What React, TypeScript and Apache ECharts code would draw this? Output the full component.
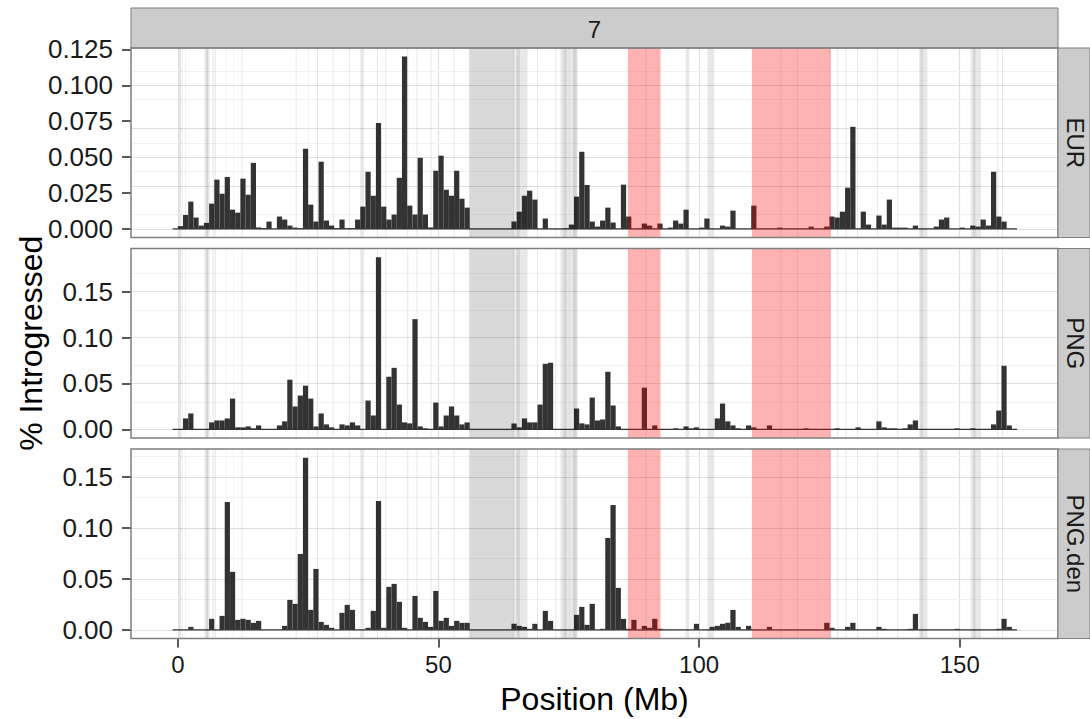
import React, { useEffect, useRef } from "react";
import * as echarts from "echarts";

// ---------- data ----------
const chromosome = "7";
const panels = ["EUR", "PNG", "PNG.den"];
const firstBinStart = -1; // Mb, bins are 1 Mb wide
const binWidth = 1;

// % introgressed per 1-Mb bin, bins starting at -1, 0, 1, ..., 160 Mb
const eur = [
  0, 0.0019, 0.0097, 0.019, 0.0079, 0.0023, 0.0042, 0.0176, 0.0343, 0.0245,
  0.0361, 0.0134, 0.0113, 0.035, 0.0238, 0.046, 0.001, 0.0005, 0.0051, 0,
  0.0086, 0.0065, 0.0023, 0.0009, 0.0005, 0.0558, 0.0169, 0.0051, 0.0468, 0.0058,
  0.0023, 0.0005, 0.0065, 0.0005, 0.0005, 0.0065, 0.0155, 0.0398, 0.0231, 0.0738,
  0.0155, 0.0065, 0.01, 0.0356, 0.12, 0.0162, 0.01, 0.0495, 0.01, 0.001,
  0.0405, 0.051, 0.0273, 0.0231, 0.0405, 0.021, 0.0148, 0, 0, 0,
  0, 0, 0, 0, 0, 0.0051, 0.012, 0.0231, 0.0266, 0.0204,
  0, 0.0072, 0, 0, 0, 0.0005, 0.003, 0.0225, 0.0537, 0.0306,
  0.0051, 0.0016, 0.0058, 0.0148, 0.0044, 0, 0.0308, 0.0086, 0, 0.0002,
  0.0037, 0.0023, 0, 0.0037, 0, 0.0009, 0.0058, 0.0037, 0.0134, 0,
  0, 0.0009, 0.0072, 0, 0, 0.0023, 0.0016, 0.0127, 0, 0,
  0, 0.0162, 0, 0, 0, 0, 0.0009, 0, 0, 0,
  0, 0, 0.0016, 0, 0, 0.0016, 0.0086, 0.0079, 0.012, 0.0287,
  0.0711, 0, 0.012, 0.003, 0, 0.0093, 0.003, 0.0204, 0.0009, 0.0009,
  0.0009, 0, 0.0023, 0, 0, 0, 0.0016, 0.0065, 0.0079, 0,
  0, 0.0009, 0, 0.0023, 0.0016, 0.0065, 0.0023, 0.0398, 0.0086, 0.0051,
  0, 0,
];
const png = [
  0, 0, 0.0119, 0.0173, 0, 0, 0, 0.0076, 0.0097, 0.0097,
  0.0119, 0.0335, 0.0022, 0.0022, 0.0032, 0.0011, 0.0043, 0, 0, 0,
  0.0043, 0.0087, 0.0541, 0.0249, 0.0368, 0.0476, 0.0335, 0.0032, 0.0173, 0.0054,
  0.0022, 0, 0.0054, 0.0043, 0.0076, 0.0043, 0, 0.0314, 0.0151, 0.1875,
  0, 0.0573, 0.067, 0.027, 0.0076, 0.0065, 0.12, 0.0032, 0.0011, 0,
  0.0292, 0.0032, 0.0151, 0.0249, 0.0151, 0.0054, 0.0076, 0, 0, 0,
  0, 0, 0, 0, 0, 0.0065, 0.0022, 0.0119, 0.0076, 0.0076,
  0.027, 0.0714, 0.0725, 0, 0, 0, 0, 0.0227, 0.0065, 0.0054,
  0.0346, 0.0097, 0.0108, 0.0627, 0.026, 0.0032, 0, 0, 0, 0,
  0.0454, 0, 0.0043, 0, 0, 0, 0.0011, 0, 0.0032, 0.0011,
  0.0022, 0, 0, 0, 0.0119, 0.0281, 0.0087, 0.0043, 0.0011, 0,
  0.0043, 0.0022, 0, 0, 0.0043, 0, 0, 0, 0, 0,
  0, 0.0011, 0, 0, 0, 0, 0, 0.0011, 0, 0,
  0, 0.0022, 0, 0, 0, 0.0087, 0.0022, 0.0011, 0.0011, 0,
  0.0011, 0.0054, 0.0097, 0, 0, 0, 0, 0, 0, 0,
  0.0011, 0, 0, 0.0011, 0, 0, 0, 0.0054, 0.0205, 0.0692,
  0.0043, 0,
];
const pngDen = [
  0, 0, 0, 0.0029, 0, 0, 0, 0.0108, 0, 0.0137,
  0.1255, 0.0569, 0.0098, 0.0108, 0.0098, 0.0069, 0.0088, 0, 0, 0,
  0, 0.0039, 0.0294, 0.0255, 0.0745, 0.169, 0.0196, 0.0598, 0.0078, 0.0049,
  0.002, 0, 0.0167, 0.0245, 0.0196, 0, 0, 0.002, 0.0186, 0.1265,
  0.002, 0.0422, 0.0451, 0.0275, 0.002, 0, 0.0333, 0.0118, 0.0078, 0.0029,
  0.0382, 0.0088, 0.0118, 0.0039, 0.0088, 0.0069, 0.0069, 0, 0, 0,
  0, 0, 0, 0, 0, 0.0059, 0.0039, 0.0029, 0.001, 0.0059,
  0, 0.0186, 0.0088, 0, 0, 0, 0, 0.0147, 0.0225, 0.0049,
  0.0255, 0, 0.001, 0.0902, 0.1225, 0.0412, 0.0108, 0.001, 0.0098, 0,
  0.0039, 0.002, 0.0108, 0.001, 0, 0, 0, 0, 0, 0,
  0.0059, 0, 0, 0.0029, 0.0039, 0.0059, 0.0069, 0.0196, 0.0029, 0,
  0.0039, 0, 0, 0, 0.0029, 0, 0, 0, 0, 0,
  0, 0, 0, 0, 0, 0.0069, 0.002, 0, 0, 0.0029,
  0.0069, 0, 0, 0, 0, 0.0029, 0.001, 0, 0, 0,
  0, 0.001, 0.0157, 0, 0, 0, 0, 0, 0, 0,
  0.001, 0, 0, 0, 0, 0, 0, 0, 0.001, 0.0108,
  0.0029, 0,
];
const panelValues = [eur, png, pngDen];

const xTicks = [0, 50, 100, 150];
const xMinorTicks = [25, 75, 125];
const yTicks = [
  [0, 0.025, 0.05, 0.075, 0.1, 0.125],
  [0, 0.05, 0.1, 0.15],
  [0, 0.05, 0.1, 0.15],
];
const yMinorTicks = [
  [0.0125, 0.0375, 0.0625, 0.0875, 0.1125],
  [0.025, 0.075, 0.125, 0.175],
  [0.025, 0.075, 0.125, 0.175],
];
const yDecimals = [3, 2, 2];
const yRanges = [
  [-0.006, 0.126],
  [-0.0094, 0.1969],
  [-0.0085, 0.1775],
];
const xRange = [-8.98, 168.85];

// highlighted regions (Mb)
const redRegions = [
  [86.35, 92.6],
  [110.13, 125.28],
];
const greyBand = [55.9, 64.5];
// thin grey marks (Mb)
const gapMarks = [
  [0.2, 0.7], [0.9, 1.0], [1.4, 1.5], [5.1, 6.1], [5.5, 5.8], [6.7, 6.9], [7.1, 7.3],
  [9.2, 9.3], [10.6, 10.7], [12.2, 12.4], [22.6, 22.8], [26.7, 26.9], [29.7, 29.9],
  [32.8, 33.0], [35.0, 35.7], [38.2, 38.4], [39.8, 40.0], [44.0, 44.2], [45.8, 46.0],
  [48.5, 48.7], [52.9, 53.1], [64.4, 67.1], [65.0, 65.6], [68.9, 69.1], [72.4, 72.6],
  [73.4, 76.7], [74.0, 74.6], [75.8, 76.5], [89.7, 89.9], [97.4, 98.1], [101.6, 102.9],
  [115.6, 115.8], [118.8, 119.0], [126.5, 126.7], [128.1, 128.3], [130.3, 130.5],
  [134.1, 134.3], [138.0, 138.2], [142.2, 143.8], [142.5, 142.9], [152.1, 154.1],
  [152.6, 153.0], [157.2, 157.4], [158.1, 158.3],
];

const xTitle = "Position (Mb)";
const yTitle = "% Introgressed";

// ---------- layout ----------
const FONT = '"Liberation Sans", Arial, Helvetica, sans-serif';
const PANEL_LEFT = 131;
const PANEL_RIGHT = 1058;
const PANEL_TOPS = [48, 248.5, 449];
const PANEL_H = 189.5;
const STRIP_TOP = 8;
const STRIP_RIGHT_W = 32;
const BORDER = "#7f7f7f";
const STRIP_FILL = "#cccccc";

export default function App() {
  const ref = useRef<HTMLDivElement>(null);

  useEffect(() => {
    if (!ref.current) return;
    const chart = echarts.init(ref.current, undefined, { renderer: "svg" });
    const binCenters = eur.map((_, i) => firstBinStart + i * binWidth + binWidth / 2);
    const dataStart = firstBinStart;
    const dataEnd = firstBinStart + eur.length * binWidth;

    const grids = PANEL_TOPS.map((top) => ({
      left: PANEL_LEFT,
      top,
      width: PANEL_RIGHT - PANEL_LEFT,
      height: PANEL_H,
      show: true,
      backgroundColor: "#ffffff",
      borderWidth: 0,
    }));

    const xAxes = panels.map((_, i) => ({
      type: "value",
      gridIndex: i,
      position: "bottom",
      min: xRange[0],
      max: xRange[1],
      axisLine: { show: false, onZero: false },
      splitLine: { show: false },
      axisTick: {
        show: i === 2,
        customValues: xTicks,
        length: 9,
        lineStyle: { color: "#222", width: 1.5 },
      },
      axisLabel: {
        show: i === 2,
        customValues: xTicks,
        fontSize: 24,
        fontFamily: FONT,
        color: "#1a1a1a",
        margin: 14,
        formatter: (v: number) => String(v),
      },
      ...(i === 2
        ? {
            name: xTitle,
            nameLocation: "middle",
            nameGap: 44,
            nameTextStyle: { fontSize: 32, fontFamily: FONT, color: "#000" },
          }
        : {}),
    }));

    const yAxes = panels.map((_, i) => ({
      type: "value",
      gridIndex: i,
      position: "left",
      min: yRanges[i][0],
      max: yRanges[i][1],
      axisLine: { show: false, onZero: false },
      splitLine: { show: false },
      axisTick: {
        show: true,
        customValues: yTicks[i],
        length: 9,
        lineStyle: { color: "#222", width: 1.5 },
      },
      axisLabel: {
        customValues: yTicks[i],
        fontSize: 26,
        fontFamily: FONT,
        color: "#1a1a1a",
        margin: 18,
        formatter: (v: number) => v.toFixed(yDecimals[i]),
      },
      ...(i === 1
        ? {
            name: yTitle,
            nameLocation: "middle",
            nameRotate: 90,
            nameGap: 84,
            nameTextStyle: { fontSize: 32, fontFamily: FONT, color: "#000" },
          }
        : {}),
    }));

    const series: any[] = [];
    panels.forEach((_, i) => {
      const vals = panelValues[i];
      series.push({
        type: "bar",
        xAxisIndex: i,
        yAxisIndex: i,
        barWidth: "100%",
        z: 2,
        itemStyle: { color: "#333333" },
        data: binCenters.map((c, j) => [c, vals[j]]),
        silent: true,
      });
      const gridLines: any[] = [];
      xTicks.forEach((v) =>
        gridLines.push({ xAxis: v, lineStyle: { color: "#e0e0e0", width: 1.2, type: "solid" } })
      );
      xMinorTicks.forEach((v) =>
        gridLines.push({ xAxis: v, lineStyle: { color: "#f2f2f2", width: 1, type: "solid" } })
      );
      yTicks[i].forEach((v) =>
        gridLines.push({ yAxis: v, lineStyle: { color: "#e0e0e0", width: 1.2, type: "solid" } })
      );
      yMinorTicks[i].forEach((v) =>
        gridLines.push({ yAxis: v, lineStyle: { color: "#f2f2f2", width: 1, type: "solid" } })
      );
      const areas: any[] = [];
      gapMarks.forEach(([s, e]) =>
        areas.push([{ xAxis: s, itemStyle: { color: "rgba(0,0,0,0.09)" } }, { xAxis: e }])
      );
      areas.push([{ xAxis: greyBand[0], itemStyle: { color: "rgba(0,0,0,0.15)" } }, { xAxis: greyBand[1] }]);
      redRegions.forEach(([s, e]) =>
        areas.push([{ xAxis: s, itemStyle: { color: "rgba(255,0,0,0.3)" } }, { xAxis: e }])
      );
      series.push({
        type: "line",
        xAxisIndex: i,
        yAxisIndex: i,
        z: 2,
        symbol: "none",
        silent: true,
        lineStyle: { color: "#333333", width: 1.2 },
        data: [
          [dataStart, 0],
          [dataEnd, 0],
        ],
        markLine: {
          z: 1,
          silent: true,
          symbol: ["none", "none"],
          label: { show: false },
          emphasis: { disabled: true },
          data: gridLines,
        },
        markArea: {
          z: 3,
          silent: true,
          label: { show: false },
          emphasis: { disabled: true },
          data: areas,
        },
      });
    });

    const graphics: any[] = [];
    // top strip
    graphics.push({
      type: "rect",
      z: 100,
      shape: { x: PANEL_LEFT, y: STRIP_TOP, width: PANEL_RIGHT - PANEL_LEFT, height: PANEL_TOPS[0] - STRIP_TOP },
      style: { fill: STRIP_FILL, stroke: BORDER, lineWidth: 1 },
    });
    graphics.push({
      type: "text",
      z: 101,
      x: (PANEL_LEFT + PANEL_RIGHT) / 2,
      y: (STRIP_TOP + PANEL_TOPS[0]) / 2 + 1,
      style: {
        text: chromosome,
        fontSize: 24,
        fontFamily: FONT,
        fill: "#1a1a1a",
        align: "center",
        verticalAlign: "middle",
      },
    });
    PANEL_TOPS.forEach((top, i) => {
      graphics.push({
        type: "rect",
        z: 100,
        shape: { x: PANEL_LEFT, y: top, width: PANEL_RIGHT - PANEL_LEFT, height: PANEL_H },
        style: { fill: "none", stroke: BORDER, lineWidth: 1.5 },
      });
      graphics.push({
        type: "rect",
        z: 100,
        shape: { x: PANEL_RIGHT, y: top, width: STRIP_RIGHT_W, height: PANEL_H },
        style: { fill: STRIP_FILL, stroke: BORDER, lineWidth: 1 },
      });
      graphics.push({
        type: "text",
        z: 101,
        x: PANEL_RIGHT + STRIP_RIGHT_W / 2 + 1,
        y: top + PANEL_H / 2,
        rotation: -Math.PI / 2,
        style: {
          text: panels[i],
          fontSize: 24,
          fontFamily: FONT,
          fill: "#1a1a1a",
          align: "center",
          verticalAlign: "middle",
        },
      });
    });

    chart.setOption({
      animation: false,
      grid: grids,
      xAxis: xAxes,
      yAxis: yAxes,
      series,
      graphic: graphics,
    });
    return () => chart.dispose();
  }, []);

  return (
    <div
      ref={ref}
      style={{ position: "fixed", left: 0, top: 0, width: 1090, height: 719, background: "#fff" }}
    />
  );
}
